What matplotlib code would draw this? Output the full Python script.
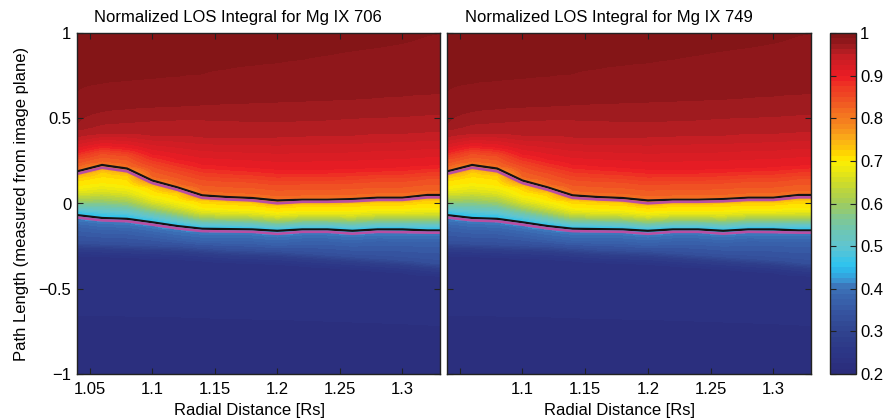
import numpy as np
import matplotlib
matplotlib.use('Agg')
import matplotlib.pyplot as plt
from matplotlib.colors import LinearSegmentedColormap

plt.rcParams['font.family'] = ['Liberation Sans', 'DejaVu Sans']

# ---------------- data ----------------
radial = [1.04, 1.06, 1.08, 1.10, 1.12, 1.14, 1.16, 1.18, 1.20, 1.22,
          1.24, 1.26, 1.28, 1.30, 1.32, 1.33]

upper_black = [0.188, 0.226, 0.205, 0.135, 0.095, 0.048, 0.038, 0.032, 0.018,
               0.022, 0.022, 0.026, 0.034, 0.034, 0.050, 0.050]
upper_magenta = [0.174, 0.210, 0.189, 0.120, 0.081, 0.033, 0.024, 0.018, 0.001,
                 0.010, 0.010, 0.013, 0.021, 0.021, 0.036, 0.036]
lower_black = [-0.068, -0.085, -0.090, -0.110, -0.132, -0.148, -0.150, -0.152,
               -0.160, -0.152, -0.152, -0.160, -0.152, -0.152, -0.158, -0.158]
lower_magenta = [-0.082, -0.099, -0.104, -0.124, -0.146, -0.162, -0.164, -0.166,
                 -0.178, -0.166, -0.166, -0.177, -0.166, -0.168, -0.171, -0.171]

# y position of iso-levels of the normalized integral, per radial column
level_085 = [0.26, 0.295, 0.28, 0.22, 0.18, 0.14, 0.13, 0.125, 0.11, 0.115,
             0.115, 0.12, 0.13, 0.13, 0.145, 0.145]
level_090 = [0.31, 0.34, 0.33, 0.29, 0.26, 0.23, 0.22, 0.21, 0.20, 0.20,
             0.20, 0.205, 0.21, 0.215, 0.225, 0.23]
level_095 = [0.39, 0.41, 0.41, 0.40, 0.40, 0.39, 0.39, 0.39, 0.39, 0.395,
             0.40, 0.40, 0.41, 0.41, 0.42, 0.42]
level_09625 = [0.43, 0.465, 0.475, 0.485, 0.49, 0.49, 0.487, 0.48, 0.48, 0.485,
               0.49, 0.50, 0.505, 0.51, 0.52, 0.52]
level_0975 = [0.47, 0.54, 0.555, 0.565, 0.57, 0.578, 0.585, 0.59, 0.595, 0.60,
              0.605, 0.61, 0.62, 0.63, 0.64, 0.645]
level_09875 = [0.656, 0.705, 0.72, 0.732, 0.745, 0.76, 0.79, 0.81, 0.825, 0.845,
               0.87, 0.895, 0.915, 0.94, 0.985, 1.0]
navy_edge = [-0.26, -0.265, -0.27, -0.275, -0.28, -0.29, -0.30, -0.305, -0.31,
             -0.32, -0.33, -0.34, -0.35, -0.36, -0.375, -0.38]

# value profile between the two line pairs (fraction from upper to lower line)
between_frac = [0.0, 0.10, 0.30, 0.48, 0.64, 0.75, 0.86, 0.95, 1.0]
between_vals = [0.76, 0.72, 0.70, 0.66, 0.60, 0.55, 0.50, 0.46, 0.45]

titles = ['Normalized LOS Integral for Mg IX 706',
          'Normalized LOS Integral for Mg IX 749']
xticks_left = [1.05, 1.1, 1.15, 1.2, 1.25, 1.3]
xticklabels_left = ['1.05', '1.1', '1.15', '1.2', '1.25', '1.3']
xticklabels_right = ['', '1.1', '1.15', '1.2', '1.25', '1.3']
yticks = [-1, -0.5, 0, 0.5, 1]
yticklabels = ['\u22121', '\u22120.5', '0', '0.5', '1']
cbar_ticks = [0.2, 0.3, 0.4, 0.5, 0.6, 0.7, 0.8, 0.9, 1.0]
cbar_labels = ['0.2', '0.3', '0.4', '0.5', '0.6', '0.7', '0.8', '0.9', '1']

# colormap anchors (value, colour)
cmap_vals = [0.20, 0.25, 0.30, 0.35, 0.40, 0.42, 0.45, 0.50, 0.55, 0.60,
             0.65, 0.70, 0.72, 0.75, 0.80, 0.85, 0.90, 0.95, 0.975, 1.00]
cmap_cols = ['#2b2c7b', '#2c3686', '#30448f', '#3656a2', '#3c70b6', '#3a93d2',
             '#29c3f2', '#60c5d0', '#74c6a6', '#a0cc5c', '#cddb2a', '#fff000',
             '#ffd500', '#fbad18', '#f47b20', '#f04e23', '#ed1c24', '#c01e24',
             '#9a1a1e', '#7c1315']

# ---------------- build the field ----------------
cmap = LinearSegmentedColormap.from_list(
    'los', [((v - 0.2) / 0.8, c) for v, c in zip(cmap_vals, cmap_cols)])

yy = np.linspace(-1, 1, 801)
Z = np.empty((len(yy), len(radial)))
for j in range(len(radial)):
    ys = [-1.0, navy_edge[j] - 0.05, navy_edge[j], navy_edge[j] + 0.03,
          lower_magenta[j] - 0.06, lower_magenta[j] - 0.005, lower_magenta[j]]
    vs = [0.215, 0.235, 0.28, 0.33, 0.37, 0.41, 0.43]
    for f, v in zip(between_frac[::-1], between_vals[::-1]):
        ys.append(upper_magenta[j] + (lower_black[j] - upper_magenta[j]) * f)
        vs.append(v)
    ys += [upper_black[j], upper_black[j] + 0.015, level_085[j], level_090[j],
           level_095[j], level_09625[j], level_0975[j], level_09875[j], 1.2]
    vs += [0.79, 0.82, 0.85, 0.90, 0.95, 0.9625, 0.975, 0.9875, 1.0]
    Z[:, j] = np.interp(yy, ys, vs)

levels = np.linspace(0.2, 1.0, 65)

# ---------------- figure ----------------
W, H = 886, 419
fig = plt.figure(figsize=(W / 100, H / 100), dpi=100)

def fr(x0, y0, x1, y1):
    return [x0 / W, 1 - y1 / H, (x1 - x0) / W, (y1 - y0) / H]

ax1 = fig.add_axes(fr(77, 33, 440, 374))
ax2 = fig.add_axes(fr(447, 33, 811, 374))
cax = fig.add_axes(fr(830, 33, 856, 374))

FS = 12
for k, ax in enumerate([ax1, ax2]):
    cf = ax.contourf(radial, yy, Z, levels=levels, cmap=cmap, vmin=0.2, vmax=1.0)
    ax.plot(radial, upper_black, color='#141414', lw=1.6, solid_joinstyle='round')
    ax.plot(radial, lower_black, color='#141414', lw=1.6, solid_joinstyle='round')
    ax.plot(radial, upper_magenta, color='#b84fa3', lw=1.9, solid_joinstyle='round')
    ax.plot(radial, lower_magenta, color='#b84fa3', lw=1.9, solid_joinstyle='round')
    ax.set_xlim(1.04, 1.33)
    ax.set_ylim(-1, 1)
    ax.set_xticks(xticks_left)
    ax.set_xticklabels(xticklabels_left if k == 0 else xticklabels_right)
    ax.set_yticks(yticks)
    if k == 0:
        ax.set_yticklabels(yticklabels)
        ax.set_ylabel('Path Length (measured from image plane)', fontsize=FS, labelpad=7)
    else:
        ax.set_yticklabels([])
    ax.tick_params(direction='in', top=True, right=True, length=4, width=0.8,
                   labelsize=FS, color='#222222')
    ax.tick_params(axis='x', pad=6)
    ax.tick_params(axis='y', pad=4)
    for s in ax.spines.values():
        s.set_linewidth(1.0)
        s.set_color('#222222')
    ax.set_title(titles[k], fontsize=FS, x=0.444, pad=8)
    ax.set_xlabel('Radial Distance [Rs]', fontsize=FS, labelpad=1)
    ax.xaxis.set_label_coords(0.474, -0.085)

cb = fig.colorbar(cf, cax=cax, ticks=cbar_ticks)
cb.ax.set_yticklabels(cbar_labels)
cb.ax.tick_params(direction='in', left=True, right=True, length=4, width=0.8,
                  labelsize=FS, pad=3, color='#222222')
cb.outline.set_linewidth(1.0)
cb.outline.set_edgecolor('#222222')

fig.savefig('out.png', dpi=100)
